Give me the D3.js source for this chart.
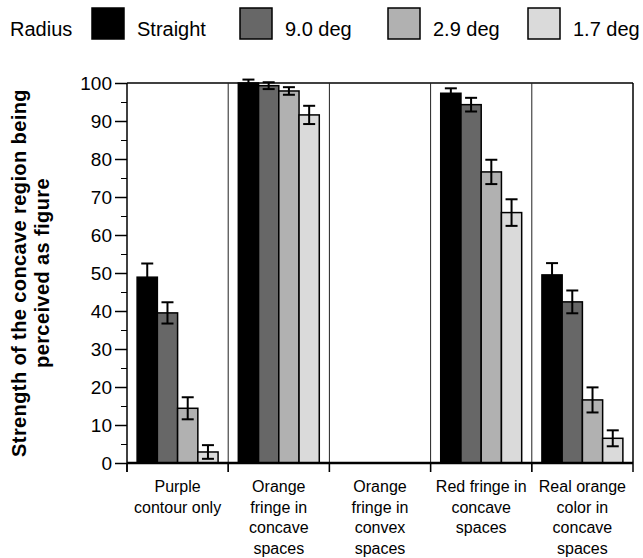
<!DOCTYPE html>
<html>
<head>
<meta charset="utf-8">
<script src="https://cdn.jsdelivr.net/npm/d3@7"></script>
<style>
  html, body { margin: 0; padding: 0; background: #fff; }
  svg { display: block; font-family: "Liberation Sans", Arial, Helvetica, sans-serif; }
</style>
</head>
<body>
<svg id="chart" width="643" height="558"></svg>
<script>
// ---- data ----
const categories = [
  "Purple\ncontour only",
  "Orange\nfringe in\nconcave\nspaces",
  "Orange\nfringe in\nconvex\nspaces",
  "Red fringe in\nconcave\nspaces",
  "Real orange\ncolor in\nconcave\nspaces"
];
const seriesNames = ["Straight", "9.0 deg", "2.9 deg", "1.7 deg"];
const seriesColors = ["#000000", "#676767", "#b1b1b1", "#dadada"];

const straightValues = [48.9, 100.0, null, 97.3, 49.5];
const deg9Values     = [39.5, 99.3, null, 94.3, 42.4];
const deg29Values    = [14.4, 97.9, null, 76.6, 16.6];
const deg17Values    = [2.9, 91.6, null, 65.9, 6.5];

const straightErrors = [3.6, 0.9, null, 1.3, 3.1];
const deg9Errors     = [2.8, 0.9, null, 1.8, 3.0];
const deg29Errors    = [2.9, 1.0, null, 3.2, 3.3];
const deg17Errors    = [1.8, 2.4, null, 3.5, 2.1];

const yMajorTicks = [0, 10, 20, 30, 40, 50, 60, 70, 80, 90, 100];
const yMinorTicks = [5, 15, 25, 35, 45, 55, 65, 75, 85, 95];

const legendTitle = "Radius";
const yTitleLines = ["Strength of the concave region being", "perceived as figure"];

// ---- build table ----
const allValues = [straightValues, deg9Values, deg29Values, deg17Values];
const allErrors = [straightErrors, deg9Errors, deg29Errors, deg17Errors];
const rows = [];
categories.forEach((c, ci) => {
  seriesNames.forEach((s, si) => {
    const v = allValues[si][ci];
    if (v !== null) rows.push({ cat: c, series: s, si, value: v, err: allErrors[si][ci] });
  });
});

// ---- layout ----
const pLeft = 127, pRight = 633, pTop = 83, pBottom = 463;
const svg = d3.select("#chart");

const x0 = d3.scaleBand().domain(categories).range([pLeft, pRight]).padding(0);
const x1 = d3.scaleBand().domain(seriesNames).range([0, x0.bandwidth()]).paddingInner(0).paddingOuter(0.5);
const y = d3.scaleLinear().domain([0, 100]).range([pBottom, pTop]);

// frame (top and right) and group dividers
svg.append("line").attr("x1", pLeft).attr("x2", pRight).attr("y1", pTop).attr("y2", pTop)
  .attr("stroke", "#000").attr("stroke-width", 1.5);
svg.append("line").attr("x1", pRight).attr("x2", pRight).attr("y1", pTop).attr("y2", pBottom + 9)
  .attr("stroke", "#000").attr("stroke-width", 1.5);
svg.append("g").selectAll("line").data(categories.slice(1)).join("line")
  .attr("x1", d => x0(d)).attr("x2", d => x0(d))
  .attr("y1", pTop).attr("y2", pBottom + 9)
  .attr("stroke", "#222").attr("stroke-width", 1);

// bars
svg.append("g").selectAll("rect").data(rows).join("rect")
  .attr("x", d => x0(d.cat) + x1(d.series))
  .attr("y", d => y(d.value))
  .attr("width", x1.bandwidth())
  .attr("height", d => y(0) - y(d.value))
  .attr("fill", d => seriesColors[d.si])
  .attr("stroke", "#000").attr("stroke-width", 1.5);

// error bars
const eb = svg.append("g").attr("stroke", "#000").attr("stroke-width", 2);
rows.forEach(d => {
  const cx = x0(d.cat) + x1(d.series) + x1.bandwidth() / 2;
  const ya = y(d.value + d.err), yb = y(d.value - d.err);
  eb.append("line").attr("x1", cx).attr("x2", cx).attr("y1", ya).attr("y2", yb);
  eb.append("line").attr("x1", cx - 6).attr("x2", cx + 6).attr("y1", ya).attr("y2", ya);
  eb.append("line").attr("x1", cx - 6).attr("x2", cx + 6).attr("y1", yb).attr("y2", yb);
});

// y axis
const yAxis = svg.append("g").attr("transform", `translate(${pLeft},0)`)
  .call(d3.axisLeft(y).tickValues(yMajorTicks).tickSize(12).tickPadding(3).tickFormat(d3.format("d")));
yAxis.select(".domain").attr("stroke-width", 1.5).attr("d", `M0,${pTop}V${pBottom + 9}`);
yAxis.selectAll(".tick line").attr("stroke-width", 1.5);
yAxis.selectAll(".tick text").attr("font-size", 19).attr("fill", "#000")
  .attr("font-family", "Liberation Sans, Arial, sans-serif");
const yMinor = svg.append("g").attr("transform", `translate(${pLeft},0)`)
  .call(d3.axisLeft(y).tickValues(yMinorTicks).tickSize(6).tickFormat(""));
yMinor.select(".domain").remove();
yMinor.selectAll(".tick line").attr("stroke-width", 1);

// x axis
const xAxis = svg.append("g").attr("transform", `translate(0,${pBottom})`)
  .call(d3.axisBottom(x0).tickSize(0).tickFormat(""));
xAxis.select(".domain").attr("stroke-width", 2.5).attr("d", `M${pLeft},0H${pRight}`);
// boundary tick marks below axis
svg.append("g").selectAll("line").data(categories).join("line")
  .attr("x1", d => x0(d)).attr("x2", d => x0(d))
  .attr("y1", pBottom).attr("y2", pBottom + 9)
  .attr("stroke", "#000").attr("stroke-width", 1.5);

// category labels
const labels = svg.append("g").selectAll("text").data(categories).join("text")
  .attr("text-anchor", "middle").attr("font-size", 16).attr("fill", "#000")
  .attr("x", d => x0(d) + x0.bandwidth() / 2)
  .attr("y", 492);
labels.each(function(d) {
  const t = d3.select(this);
  d.split("\n").forEach((line, i) => {
    t.append("tspan").attr("x", x0(d) + x0.bandwidth() / 2).attr("dy", i === 0 ? 0 : 20.5).text(line);
  });
});

// y title
const yt = svg.append("text")
  .attr("transform", "translate(0,273) rotate(-90)")
  .attr("text-anchor", "middle").attr("font-size", 20).attr("font-weight", "bold")
  .attr("letter-spacing", 0.4).attr("fill", "#000");
yTitleLines.forEach((line, i) => {
  yt.append("tspan").attr("x", 0).attr("y", 26 + i * 23).text(line);
});

// legend
svg.append("text").attr("x", 10).attr("y", 36).attr("font-size", 20).attr("fill", "#000").text(legendTitle);
const legendBoxX = [92, 240, 388, 528];
const lg = svg.append("g").selectAll("g").data(seriesNames).join("g");
lg.append("rect")
  .attr("x", (d, i) => legendBoxX[i]).attr("y", 8)
  .attr("width", 32).attr("height", 31)
  .attr("fill", (d, i) => seriesColors[i])
  .attr("stroke", "#000").attr("stroke-width", 1.5);
lg.append("text")
  .attr("x", (d, i) => legendBoxX[i] + 45).attr("y", 36)
  .attr("font-size", 20).attr("fill", "#000")
  .text(d => d);
</script>
</body>
</html>
